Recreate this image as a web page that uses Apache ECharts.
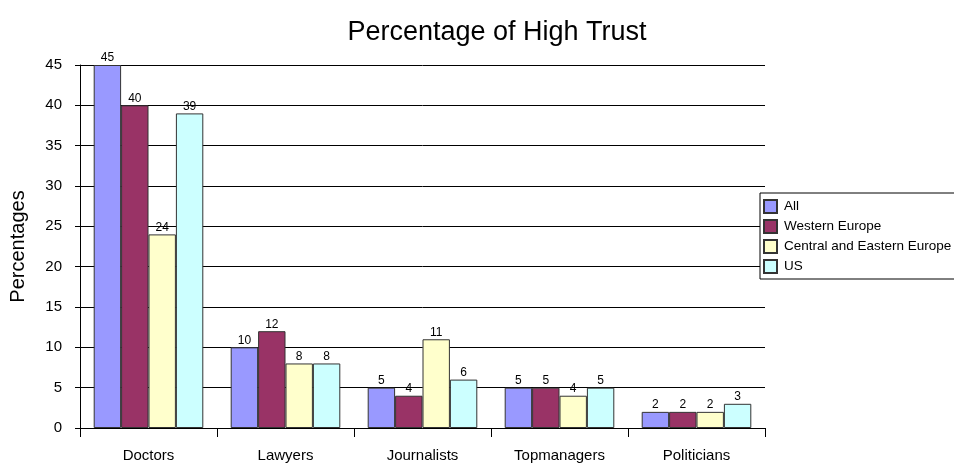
<!DOCTYPE html>
<html>
<head>
<meta charset="utf-8">
<script src="https://cdn.jsdelivr.net/npm/echarts@6/dist/echarts.min.js"></script>
<style>
  html, body { margin: 0; padding: 0; background: #fff; }
  #chart { width: 954px; height: 463px; }
</style>
</head>
<body>
<div id="chart"></div>
<script>
const categories = ["Doctors", "Lawyers", "Journalists", "Topmanagers", "Politicians"];
const seriesNames = ["All", "Western Europe", "Central and Eastern Europe", "US"];
const allValues = [45, 10, 5, 5, 2];
const westernEurope = [40, 12, 4, 5, 2];
const centralEastern = [24, 8, 11, 4, 2];
const usValues = [39, 8, 6, 5, 3];
const colors = ["#9999ff", "#993366", "#ffffcc", "#ccffff"];

const font = "Liberation Sans, Arial, sans-serif";
const chart = echarts.init(document.getElementById("chart"));

function makeSeries(name, data, color) {
  return {
    name: name,
    type: "bar",
    data: data,
    barGap: 0,
    barCategoryGap: "20%",
    itemStyle: { color: color, borderColor: "#333", borderWidth: 1 },
    label: {
      show: true,
      position: "top",
      distance: 1,
      color: "#000",
      fontSize: 12,
      fontFamily: font
    }
  };
}

chart.setOption({
  animation: false,
  title: {
    text: "Percentage of High Trust",
    left: 492,
    textAlign: "center",
    top: 14,
    textStyle: { fontFamily: font, fontSize: 27, fontWeight: "normal", color: "#000" }
  },
  legend: {
    orient: "vertical",
    left: 760,
    top: 193,
    itemWidth: 13,
    itemHeight: 13,
    itemGap: 5,
    padding: [6, 6, 5, 3],
    borderColor: "#000",
    borderWidth: 1,
    backgroundColor: "#fff",
    icon: "rect",
    textStyle: { fontFamily: font, fontSize: 13.5, color: "#000", padding: [0, 0, 0, 2] },
    data: seriesNames
  },
  grid: { left: 79, right: 189, top: 65, bottom: 35 },
  xAxis: {
    type: "category",
    data: categories,
    axisLine: { lineStyle: { color: "#000", width: 1 } },
    axisTick: { show: true, length: 9, lineStyle: { color: "#000" } },
    axisLabel: { fontFamily: font, fontSize: 15, color: "#000", margin: 20 }
  },
  yAxis: {
    type: "value",
    min: 0,
    max: 45,
    interval: 5,
    name: "Percentages",
    nameLocation: "middle",
    nameGap: 52,
    nameTextStyle: { fontFamily: font, fontSize: 20, color: "#000" },
    axisLine: { show: true, lineStyle: { color: "#000" } },
    axisTick: { show: true, length: 5, lineStyle: { color: "#000" } },
    axisLabel: { fontFamily: font, fontSize: 15, color: "#000", margin: 18 },
    splitLine: { show: true, lineStyle: { color: "#000", width: 1 } }
  },
  series: [
    makeSeries(seriesNames[0], allValues, colors[0]),
    makeSeries(seriesNames[1], westernEurope, colors[1]),
    makeSeries(seriesNames[2], centralEastern, colors[2]),
    makeSeries(seriesNames[3], usValues, colors[3])
  ]
});
</script>
</body>
</html>
